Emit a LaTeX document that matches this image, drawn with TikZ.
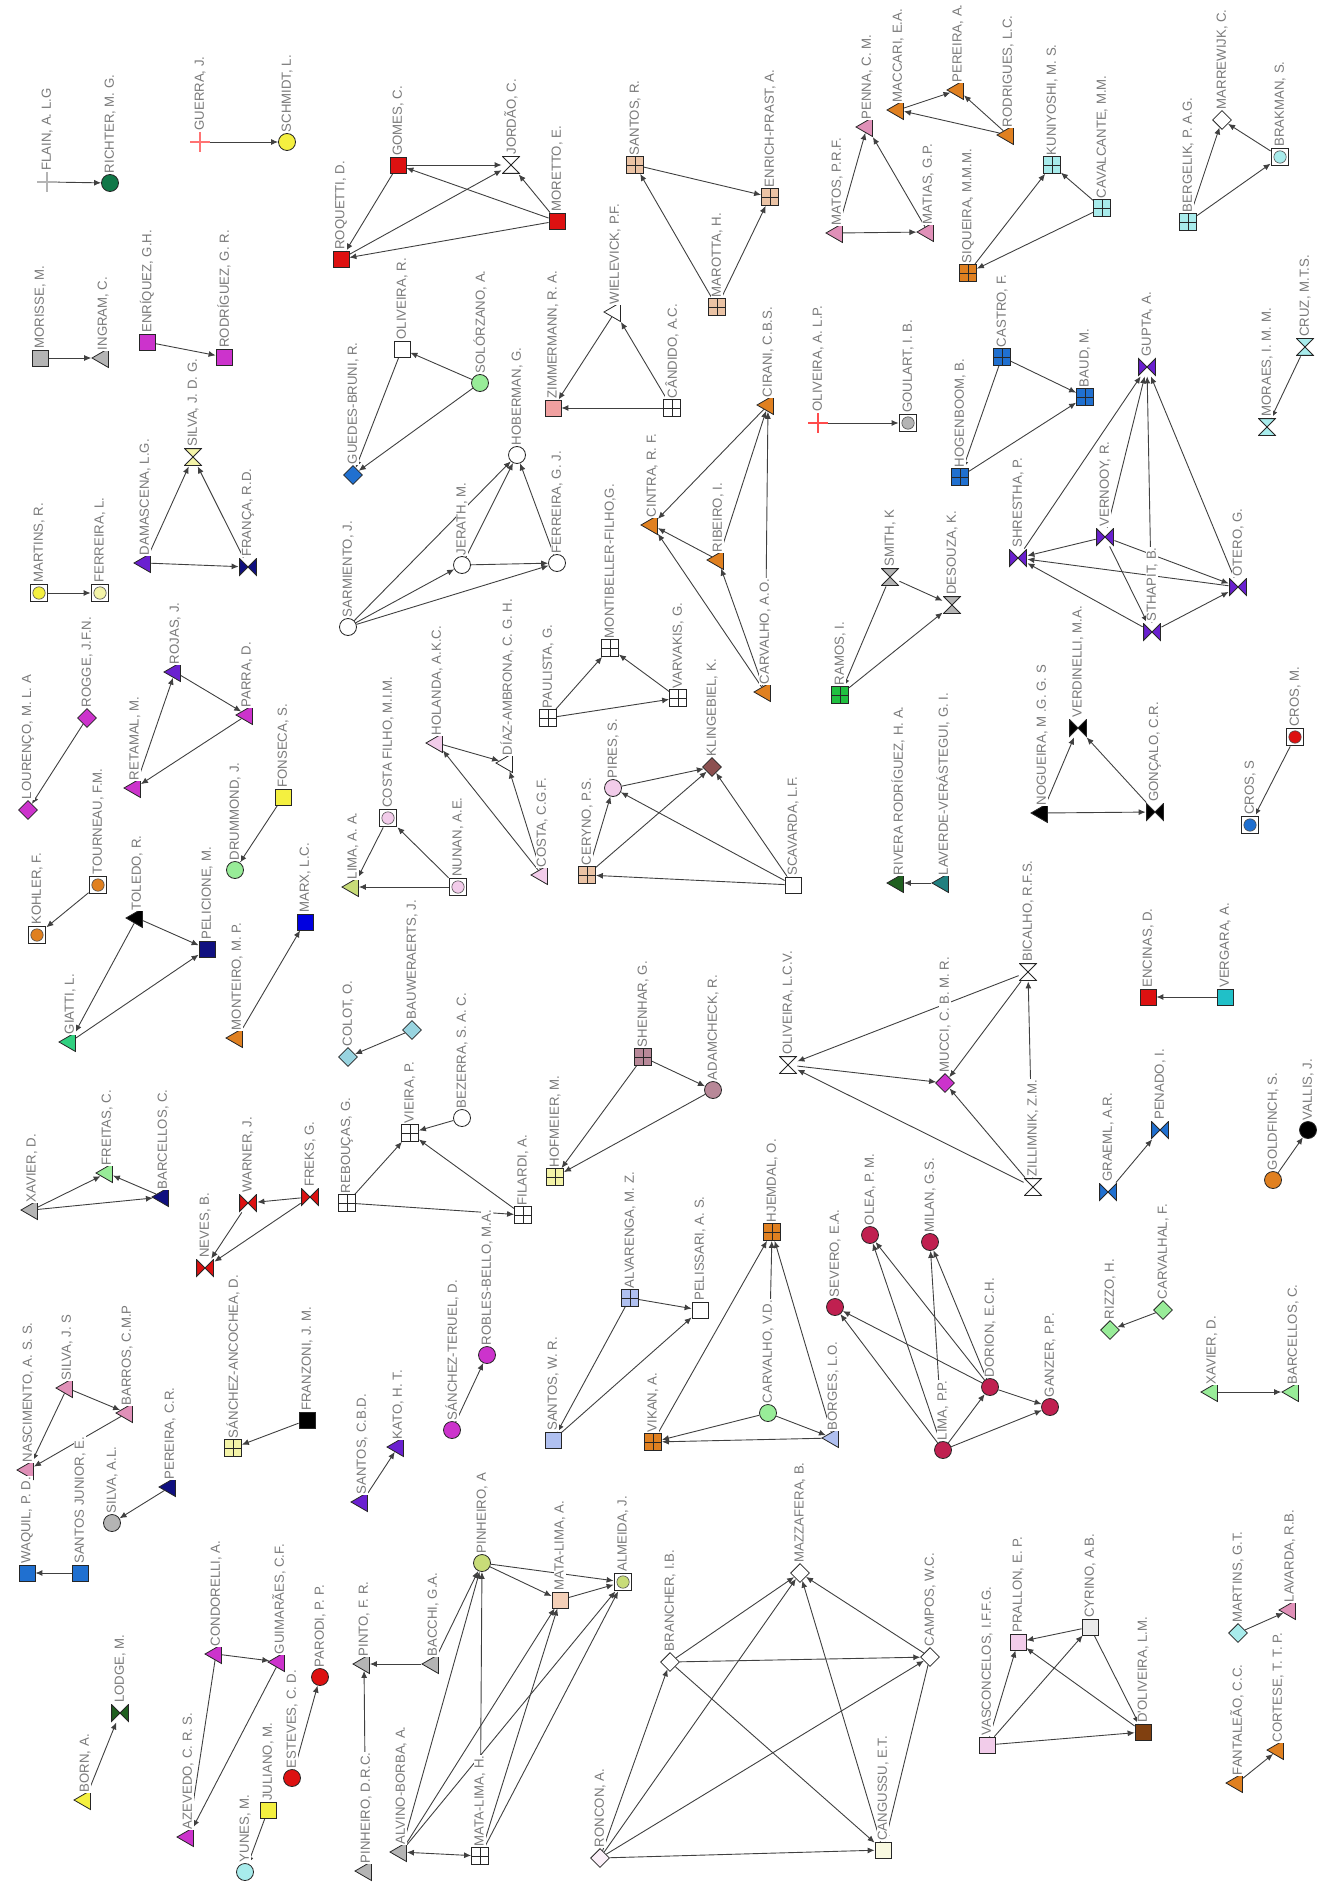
\documentclass[tikz,border=0pt]{standalone}
\usepackage{fontspec}
\usepackage{xcolor}
\usepackage{tikz}
\usetikzlibrary{arrows.meta,shapes.geometric}
\newfontfamily\labfont{Liberation Sans}
\definecolor{cgry}{HTML}{B4B4B4}
\definecolor{cmgn}{HTML}{CC33CC}
\definecolor{crd}{HTML}{DD1111}
\definecolor{cbl}{HTML}{2070D0}
\definecolor{cpu}{HTML}{6A20D0}
\definecolor{cnv}{HTML}{101080}
\definecolor{corg}{HTML}{E08020}
\definecolor{cpk}{HTML}{E090B8}
\definecolor{clpk}{HTML}{F2CCEA}
\definecolor{ctan}{HTML}{EBC3A5}
\definecolor{clcy}{HTML}{A8ECEC}
\definecolor{ccy2}{HTML}{98D4E0}
\definecolor{clgr}{HTML}{98EC98}
\definecolor{cyl}{HTML}{F4F040}
\definecolor{clyl}{HTML}{F4F4A8}
\definecolor{cygr}{HTML}{C8DC78}
\definecolor{cdgr}{HTML}{107848}
\definecolor{cdgr2}{HTML}{206020}
\definecolor{csal}{HTML}{F0A0A0}
\definecolor{cmve}{HTML}{B88898}
\definecolor{cbrn}{HTML}{8C5050}
\definecolor{clav}{HTML}{B0C0F0}
\definecolor{cmrn}{HTML}{C02050}
\definecolor{cdbr}{HTML}{804010}
\definecolor{ctl}{HTML}{20C0C8}
\definecolor{cgrn}{HTML}{20C040}
\definecolor{cmarx}{HTML}{0000E0}
\definecolor{cgia}{HTML}{30D080}
\definecolor{cteal}{HTML}{208080}
\definecolor{cpch}{HTML}{F4D0B8}
\definecolor{cvpk}{HTML}{FBEFF8}
\definecolor{cvyl}{HTML}{F8F8E0}
\pgfdeclarelayer{bg}
\pgfsetlayers{bg,main}
\begin{document}
\begin{tikzpicture}[x=0.5pt,y=-0.5pt,>={Latex[length=3.5pt,width=3pt]},
  every node/.style={inner sep=0pt,draw=black!85,line width=0.4pt},
  lab/.style={rotate=90,anchor=west,draw=none,fill=white,text=black!52,inner sep=0.3pt,
    font=\labfont\fontsize{6.6}{7}\selectfont},
  nm/.style={label={[lab]above:{#1}}},
  sq/.style={rectangle,fill=#1,minimum size=8pt},
  circ/.style={circle,fill=#1,minimum size=8.5pt},
  dia/.style={diamond,fill=#1,minimum size=9.5pt},
  tri/.style={regular polygon,regular polygon sides=3,shape border rotate=90,fill=#1,minimum size=11pt},
  win/.style={rectangle,fill=#1,minimum size=8.5pt,
    path picture={\draw[black!85] (path picture bounding box.north)--(path picture bounding box.south)
      (path picture bounding box.west)--(path picture bounding box.east);}},
  cbox/.style={rectangle,fill=white,minimum size=8.5pt,line width=0.9pt,
    path picture={\filldraw[fill=#1,draw=black!70,line width=0.3pt] (path picture bounding box.center) circle (3.1pt);}},
  bow/.style={rectangle,draw=none,minimum size=9pt,
    path picture={\filldraw[fill=#1,draw=black!85,line width=0.4pt]
      ([shift={(.3pt,.3pt)}]path picture bounding box.south west)--([shift={(-.3pt,-.3pt)}]path picture bounding box.north east)
      --([shift={(-.3pt,.3pt)}]path picture bounding box.south east)--([shift={(.3pt,-.3pt)}]path picture bounding box.north west)--cycle;}},
  hour/.style={rectangle,draw=none,minimum size=9pt,
    path picture={\filldraw[fill=#1,draw=black!85,line width=0.4pt]
      ([shift={(.3pt,.3pt)}]path picture bounding box.south west)--([shift={(-.3pt,.3pt)}]path picture bounding box.south east)
      --([shift={(.3pt,-.3pt)}]path picture bounding box.north west)--([shift={(-.3pt,-.3pt)}]path picture bounding box.north east)--cycle;}},
  plus/.style={rectangle,draw=none,minimum size=10pt,
    path picture={\draw[#1,line width=0.6pt] (path picture bounding box.north)--(path picture bounding box.south)
      (path picture bounding box.west)--(path picture bounding box.east);}},
  ed/.style={->,black!75,line width=0.45pt}]
  \useasboundingbox (0,0) rectangle (1319,1888);
  \node[plus=cgry,nm={FLAIN, A. L.G}] (flain) at (47,182) {};
  \node[circ=cdgr,nm={RICHTER, M. G.}] (richter) at (110,183) {};
  \node[plus=red!55,nm={GUERRA, J.}] (guerra) at (200,142) {};
  \node[circ=cyl,nm={SCHMIDT, L.}] (schmidt) at (287,142) {};
  \node[sq=cgry,nm={MORISSE, M.}] (morisse) at (40,358) {};
  \node[tri=cgry,nm={INGRAM, C.}] (ingram) at (103,358) {};
  \node[sq=cmgn,nm={ENRÍQUEZ, G.H.}] (enriquez) at (147,342) {};
  \node[sq=cmgn,nm={RODRÍGUEZ, G. R.}] (rodriguez) at (224,357) {};
  \node[sq=crd,nm={ROQUETTI, D.}] (roquetti) at (341,259) {};
  \node[sq=crd,nm={GOMES, C.}] (gomes) at (398,165) {};
  \node[hour=white,nm={JORDÃO, C.}] (jordao) at (511,165) {};
  \node[sq=crd,nm={MORETTO, E.}] (moretto) at (557,221) {};
  \node[sq=white,nm={OLIVEIRA, R.}] (oliveirar) at (402,349) {};
  \node[circ=clgr,nm={SOLÓRZANO, A.}] (solorzano) at (480,383) {};
  \node[dia=cbl,nm={GUEDES-BRUNI, R.}] (guedes) at (353,475) {};
  \node[circ=white,nm={SARMIENTO, J.}] (sarmiento) at (348,627) {};
  \node[circ=white,nm={JERATH, M.}] (jerath) at (462,565) {};
  \node[circ=white,nm={HOBERMAN, G.}] (hoberman) at (517,455) {};
  \node[circ=white,nm={FERREIRA, G. J.}] (ferreiragj) at (557,563) {};
  \node[sq=csal,nm={ZIMMERMANN, R. A.}] (zimmermann) at (553,408) {};
  \node[tri=white,nm={WIELEVICK, P.F.}] (wielevick) at (615,312) {};
  \node[win=white,nm={CÂNDIDO, A.C.}] (candido) at (672,408) {};
  \node[win=ctan,nm={SANTOS, R.}] (santosr) at (635,165) {};
  \node[win=ctan,nm={ENRICH-PRAST, A.}] (enrich) at (770,197) {};
  \node[win=ctan,nm={MAROTTA, H.}] (marotta) at (717,307) {};
  \node[tri=corg,nm={CIRANI, C.B.S.}] (cirani) at (768,405) {};
  \node[tri=corg,nm={CINTRA, R. F.}] (cintra) at (652,525) {};
  \node[tri=corg,nm={RIBEIRO, I.}] (ribeiro) at (718,560) {};
  \node[tri=corg,nm={CARVALHO, A.O.}] (carvalhoao) at (765,692) {};
  \node[plus=red!70,nm={OLIVEIRA, A. L.P.}] (oliveiraalp) at (818,423) {};
  \node[cbox=cgry,nm={GOULART, I. B.}] (goulart) at (908,423) {};
  \node[tri=cpk,nm={MATOS, P.R.F.}] (matos) at (837,233) {};
  \node[tri=cpk,nm={PENNA, C. M.}] (penna) at (867,127) {};
  \node[tri=cpk,nm={MATIAS, G.P.}] (matias) at (928,232) {};
  \node[tri=corg,nm={MACCARI, E.A.}] (maccari) at (898,110) {};
  \node[tri=corg,nm={PEREIRA, A.}] (pereiraa) at (958,90) {};
  \node[tri=corg,nm={RODRIGUES, L.C.}] (rodrigues) at (1008,135) {};
  \node[win=corg,nm={SIQUEIRA, M.M.M.}] (siqueira) at (968,273) {};
  \node[win=clcy,nm={KUNIYOSHI, M. S.}] (kuniyoshi) at (1052,165) {};
  \node[win=clcy,nm={CAVALCANTE, M.M.}] (cavalcante) at (1102,208) {};
  \node[win=clcy,nm={BERGELIK, P. A.G.}] (bergelik) at (1188,222) {};
  \node[dia=white,nm={MARREWIJK, C.}] (marrewijk) at (1222,120) {};
  \node[cbox=clcy,nm={BRAKMAN, S.}] (brakman) at (1280,157) {};
  \node[win=cbl,nm={CASTRO, F.}] (castro) at (1002,357) {};
  \node[win=cbl,nm={BAUD, M.}] (baud) at (1085,397) {};
  \node[win=cbl,nm={HOGENBOOM, B.}] (hogenboom) at (960,477) {};
  \node[bow=cpu,nm={GUPTA, A.}] (gupta) at (1147,367) {};
  \node[bow=cpu,nm={SHRESTHA, P.}] (shrestha) at (1018,558) {};
  \node[bow=cpu,nm={VERNOOY, R.}] (vernooy) at (1105,537) {};
  \node[bow=cpu,nm={STHAPIT, B.}] (sthapit) at (1152,632) {};
  \node[bow=cpu,nm={OTERO, G.}] (otero) at (1238,587) {};
  \node[hour=clcy,nm={MORAES, I. M. M.}] (moraes) at (1267,427) {};
  \node[hour=clcy,nm={CRUZ, M.T.S.}] (cruz) at (1305,347) {};
  \node[cbox=cyl,nm={MARTINS, R.}] (martinsr) at (39,593) {};
  \node[cbox=clyl,nm={FERREIRA, L.}] (ferreiral) at (100,593) {};
  \node[tri=cpu,nm={DAMASCENA, L.G.}] (damascena) at (145,563) {};
  \node[bow=cnv,nm={FRANÇA, R.D.}] (franca) at (248,567) {};
  \node[hour=clyl,nm={SILVA, J. D. G.}] (silvajdg) at (193,457) {};
  \node[dia=cmgn,nm={LOURENÇO, M. L. A}] (lourenco) at (28,810) {};
  \node[dia=cmgn,nm={ROGGE, J.F.N.}] (rogge) at (87,718) {};
  \node[cbox=corg,nm={KOHLER, F.}] (kohler) at (37,935) {};
  \node[cbox=corg,nm={TOURNEAU, F.M.}] (tourneau) at (98,885) {};
  \node[tri=cmgn,nm={RETAMAL, M.}] (retamal) at (135,788) {};
  \node[tri=cpu,nm={ROJAS, J.}] (rojas) at (175,672) {};
  \node[tri=cmgn,nm={PARRA, D.}] (parra) at (247,715) {};
  \node[circ=clgr,nm={DRUMMOND, J.}] (drummond) at (235,870) {};
  \node[sq=cyl,nm={FONSECA, S.}] (fonseca) at (283,797) {};
  \node[tri=black,nm={TOLEDO, R.}] (toledo) at (137,918) {};
  \node[sq=cnv,nm={PELICIONE, M.}] (pelicione) at (207,949) {};
  \node[tri=cgia,nm={GIATTI, L.}] (giatti) at (70,1042) {};
  \node[sq=cmarx,nm={MARX, L.C.}] (marx) at (305,922) {};
  \node[tri=corg,nm={MONTEIRO, M. P.}] (monteiro) at (237,1038) {};
  \node[cbox=clpk,nm={COSTA FILHO, M.I.M.}] (costafilho) at (388,818) {};
  \node[tri=cygr,nm={LIMA, A. A.}] (limaaa) at (353,887) {};
  \node[cbox=clpk,nm={NUNAN, A.E.}] (nunan) at (458,887) {};
  \node[tri=clpk,nm={HOLANDA, A.K.C.}] (holanda) at (437,743) {};
  \node[tri=white,nm={DÍAZ-AMBRONA, C. G. H.}] (diaz) at (507,763) {};
  \node[tri=clpk,nm={COSTA, C.G.F.}] (costacgf) at (542,875) {};
  \node[win=white,nm={PAULISTA, G.}] (paulista) at (548,718) {};
  \node[win=white,nm={MONTIBELLER-FILHO,G.}] (montibeller) at (610,648) {};
  \node[win=white,nm={VARVAKIS, G.}] (varvakis) at (678,698) {};
  \node[win=ctan,nm={CERYNO, P.S.}] (ceryno) at (587,875) {};
  \node[circ=clpk,nm={PIRES, S.}] (pires) at (613,788) {};
  \node[dia=cbrn,nm={KLINGEBIEL, K.}] (klingebiel) at (712,767) {};
  \node[sq=white,nm={SCAVARDA, L.F.}] (scavarda) at (793,885) {};
  \node[hour=cgry,nm={SMITH, K}] (smith) at (890,577) {};
  \node[hour=cgry,nm={DESOUZA, K.}] (desouza) at (952,605) {};
  \node[win=cgrn,nm={RAMOS, I.}] (ramos) at (840,695) {};
  \node[tri=cdgr2,nm={RIVERA RODRÍGUEZ, H. A.}] (rivera) at (898,883) {};
  \node[tri=cteal,nm={LAVERDE-VERÁSTEGUI, G. I.}] (laverde) at (943,883) {};
  \node[tri=black,nm={NOGUEIRA, M .G. G. S}] (nogueira) at (1042,813) {};
  \node[bow=black,nm={VERDINELLI, M.A.}] (verdinelli) at (1078,728) {};
  \node[bow=black,nm={GONÇALO, C.R.}] (goncalo) at (1155,812) {};
  \node[cbox=cbl,nm={CROS, S}] (cross) at (1250,825) {};
  \node[cbox=crd,nm={CROS, M.}] (crosm) at (1295,737) {};
  \node[tri=cgry,nm={XAVIER, D.}] (xavier) at (32,1210) {};
  \node[tri=clgr,nm={FREITAS, C.}] (freitas) at (107,1173) {};
  \node[tri=cnv,nm={BARCELLOS, C.}] (barcellos) at (163,1197) {};
  \node[bow=crd,nm={NEVES, B.}] (neves) at (205,1268) {};
  \node[bow=crd,nm={WARNER, J.}] (warner) at (248,1203) {};
  \node[bow=crd,nm={FREKS, G.}] (freks) at (310,1197) {};
  \node[dia=ccy2,nm={COLOT, O.}] (colot) at (348,1057) {};
  \node[dia=ccy2,nm={BAUWERAERTS, J.}] (bauw) at (412,1030) {};
  \node[win=white,nm={REBOUÇAS, G.}] (reboucas) at (347,1203) {};
  \node[win=white,nm={VIEIRA, P.}] (vieirap) at (410,1133) {};
  \node[circ=white,nm={BEZERRA, S. A. C.}] (bezerra) at (462,1118) {};
  \node[win=white,nm={FILARDI, A.}] (filardi) at (523,1215) {};
  \node[win=clyl,nm={HOFMEIER, M.}] (hofmeier) at (555,1177) {};
  \node[win=cmve,nm={SHENHAR, G.}] (shenhar) at (643,1057) {};
  \node[circ=cmve,nm={ADAMCHECK, R.}] (adamcheck) at (713,1090) {};
  \node[hour=white,nm={OLIVEIRA, L.C.V.}] (oliveiralcv) at (788,1065) {};
  \node[dia=cmgn,nm={MUCCI, C. B. M. R.}] (mucci) at (945,1083) {};
  \node[hour=white,nm={BICALHO, R.F.S.}] (bicalho) at (1028,972) {};
  \node[hour=white,nm={ZILLIMNIK, Z.M.}] (zillimnik) at (1033,1187) {};
  \node[sq=crd,nm={ENCINAS, D.}] (encinas) at (1148,997) {};
  \node[sq=ctl,nm={VERGARA, A.}] (vergara) at (1225,997) {};
  \node[bow=cbl,nm={GRAEML, A.R.}] (graeml) at (1108,1192) {};
  \node[bow=cbl,nm={PENADO, I.}] (penado) at (1160,1130) {};
  \node[circ=corg,nm={GOLDFINCH, S.}] (goldfinch) at (1273,1180) {};
  \node[circ=black,nm={VALLIS, J.}] (vallis) at (1308,1130) {};
  \node[tri=cpk,nm={NASCIMENTO, A. S. S.}] (nascimento) at (28,1470) {};
  \node[tri=cpk,nm={SILVA, J. S}] (silvajs) at (67,1388) {};
  \node[tri=cpk,nm={BARROS, C.M.P}] (barros) at (127,1413) {};
  \node[win=clyl,nm={SÁNCHEZ-ANCOCHEA, D.}] (sanchezanc) at (233,1448) {};
  \node[sq=black,nm={FRANZONI, J. M.}] (franzoni) at (307,1420) {};
  \node[tri=cnv,nm={PEREIRA, C.R.}] (pereiracr) at (170,1487) {};
  \node[circ=cgry,nm={SILVA, A.L.}] (silvaal) at (112,1523) {};
  \node[sq=cbl,nm={WAQUIL, P. D.}] (waquil) at (27,1573) {};
  \node[sq=cbl,nm={SANTOS JUNIOR, E.}] (santosjr) at (80,1573) {};
  \node[tri=cpu,nm={SANTOS, C.B.D.}] (santoscbd) at (362,1502) {};
  \node[tri=cpu,nm={KATO, H. T.}] (kato) at (398,1447) {};
  \node[circ=cmgn,nm={SÁNCHEZ-TERUEL, D.}] (sancheztr) at (452,1430) {};
  \node[circ=cmgn,nm={ROBLES-BELLO, M.A.}] (robles) at (487,1355) {};
  \node[sq=clav,nm={SANTOS, W. R.}] (santoswr) at (553,1440) {};
  \node[win=clav,nm={ALVARENGA, M. Z.}] (alvarenga) at (630,1298) {};
  \node[sq=white,nm={PELISSARI, A. S.}] (pelissari) at (700,1310) {};
  \node[win=corg,nm={HJEMDAL, O.}] (hjemdal) at (772,1232) {};
  \node[win=corg,nm={VIKAN, A.}] (vikan) at (653,1442) {};
  \node[circ=clgr,nm={CARVALHO, V.D.}] (carvalhovd) at (768,1413) {};
  \node[tri=clav,nm={BORGES, L.O.}] (borges) at (833,1438) {};
  \node[circ=cmrn,nm={SEVERO, E.A.}] (severo) at (835,1307) {};
  \node[circ=cmrn,nm={OLEA, P. M.}] (olea) at (870,1235) {};
  \node[circ=cmrn,nm={MILAN, G.S.}] (milan) at (930,1242) {};
  \node[circ=cmrn,nm={DORION, E.C.H.}] (dorion) at (990,1387) {};
  \node[circ=cmrn,nm={GANZER, P.P.}] (ganzer) at (1050,1407) {};
  \node[circ=cmrn,nm={LIMA, P.P.}] (limapp) at (943,1450) {};
  \node[dia=clgr,nm={RIZZO, H.}] (rizzo) at (1110,1330) {};
  \node[dia=clgr,nm={CARVALHAL, F.}] (carvalhal) at (1163,1310) {};
  \node[tri=clgr,nm={XAVIER, D.}] (xavierb) at (1212,1392) {};
  \node[tri=clgr,nm={BARCELLOS, C.}] (barcellosb) at (1293,1392) {};
  \node[tri=cyl,nm={BORN, A.}] (born) at (85,1800) {};
  \node[bow=cdgr2,nm={LODGE, M.}] (lodge) at (120,1713) {};
  \node[tri=cmgn,nm={CONDORELLI, A.}] (condorelli) at (216,1654) {};
  \node[tri=cmgn,nm={GUIMARÃES, C.F.}] (guimaraes) at (279,1662) {};
  \node[tri=cmgn,nm={AZEVEDO, C. R. S.}] (azevedo) at (188,1837) {};
  \node[circ=crd,nm={PARODI, P. P.}] (parodi) at (320,1677) {};
  \node[circ=crd,nm={ESTEVES, C. D.}] (esteves) at (292,1778) {};
  \node[sq=cyl,nm={JULIANO, M.}] (juliano) at (268,1810) {};
  \node[circ=clcy,nm={YUNES, M.}] (yunes) at (245,1872) {};
  \node[tri=cgry,nm={PINTO, F. R.}] (pinto) at (364,1664) {};
  \node[tri=cgry,nm={PINHEIRO, D.R.C.}] (pinheirodrc) at (366,1871) {};
  \node[tri=cgry,nm={BACCHI, G.A.}] (bacchi) at (433,1664) {};
  \node[tri=cgry,nm={ALVINO-BORBA, A.}] (alvino) at (401,1852) {};
  \node[circ=cygr,nm={PINHEIRO, A}] (pinheiroa) at (482,1563) {};
  \node[sq=cpch,nm={MATA-LIMA, A.}] (matalimaa) at (560,1600) {};
  \node[cbox=cygr,nm={ALMEIDA, J.}] (almeida) at (623,1582) {};
  \node[win=white,nm={MATA-LIMA, H.}] (matalimah) at (480,1856) {};
  \node[dia=cvpk,nm={RONCON, A.}] (roncon) at (600,1858) {};
  \node[dia=white,nm={BRANCHER, I.B.}] (brancher) at (670,1662) {};
  \node[dia=white,nm={MAZZAFERA, B.}] (mazzafera) at (800,1573) {};
  \node[dia=white,nm={CAMPOS, W.C.}] (campos) at (930,1657) {};
  \node[sq=cvyl,nm={CANGUSSU, E.T.}] (cangussu) at (883,1850) {};
  \node[sq=clpk,nm={VASCONCELOS, I.F.F.G.}] (vasconcelos) at (987,1745) {};
  \node[sq=clpk,nm={PRALLON, E. P.}] (prallon) at (1018,1642) {};
  \node[sq=black!8,nm={CYRINO, A.B.}] (cyrino) at (1090,1627) {};
  \node[sq=cdbr,nm={D'OLIVEIRA, L.M.}] (doliveira) at (1143,1732) {};
  \node[dia=clcy,nm={MARTINS, G.T.}] (martinsgt) at (1238,1633) {};
  \node[tri=cpk,nm={LAVARDA, R.B.}] (lavarda) at (1290,1610) {};
  \node[tri=corg,nm={FANTALEÃO, C.C.}] (fantaleao) at (1237,1783) {};
  \node[tri=corg,nm={CORTESE, T. T. P.}] (cortese) at (1278,1750) {};
  \begin{pgfonlayer}{bg}
  \draw[ed] (flain)--(richter); \draw[ed] (guerra)--(schmidt); \draw[ed] (morisse)--(ingram);
  \draw[ed] (enriquez)--(rodriguez);
  \draw[ed] (gomes)--(jordao); \draw[ed] (roquetti)--(jordao); \draw[ed] (moretto)--(jordao);
  \draw[ed] (moretto)--(gomes); \draw[ed] (gomes)--(roquetti); \draw[ed] (moretto)--(roquetti);
  \draw[ed] (solorzano)--(oliveirar); \draw[ed] (oliveirar)--(guedes); \draw[ed] (solorzano)--(guedes);
  \draw[ed] (sarmiento)--(jerath); \draw[ed] (sarmiento)--(hoberman); \draw[ed] (sarmiento)--(ferreiragj);
  \draw[ed] (jerath)--(hoberman); \draw[ed] (jerath)--(ferreiragj); \draw[ed] (ferreiragj)--(hoberman);
  \draw[ed] (wielevick)--(zimmermann); \draw[ed] (candido)--(wielevick); \draw[ed] (candido)--(zimmermann);
  \draw[ed] (marotta)--(santosr); \draw[ed] (santosr)--(enrich); \draw[ed] (marotta)--(enrich);
  \draw[ed] (cirani)--(cintra); \draw[ed] (ribeiro)--(cirani); \draw[ed] (carvalhoao)--(cirani);
  \draw[ed] (ribeiro)--(cintra); \draw[ed] (carvalhoao)--(cintra); \draw[ed] (carvalhoao)--(ribeiro);
  \draw[ed] (oliveiraalp)--(goulart);
  \draw[ed] (matos)--(penna); \draw[ed] (matias)--(penna); \draw[ed] (matos)--(matias);
  \draw[ed] (maccari)--(pereiraa); \draw[ed] (rodrigues)--(pereiraa); \draw[ed] (rodrigues)--(maccari);
  \draw[ed] (siqueira)--(kuniyoshi); \draw[ed] (cavalcante)--(kuniyoshi); \draw[ed] (cavalcante)--(siqueira);
  \draw[ed] (bergelik)--(marrewijk); \draw[ed] (brakman)--(marrewijk); \draw[ed] (bergelik)--(brakman);
  \draw[ed] (castro)--(baud); \draw[ed] (castro)--(hogenboom); \draw[ed] (hogenboom)--(baud);
  \draw[ed] (shrestha)--(gupta); \draw[ed] (vernooy)--(gupta); \draw[ed] (sthapit)--(gupta); \draw[ed] (otero)--(gupta);
  \draw[ed] (vernooy)--(shrestha); \draw[ed] (sthapit)--(shrestha); \draw[ed] (otero)--(shrestha);
  \draw[ed] (vernooy)--(otero); \draw[ed] (sthapit)--(otero); \draw[ed] (vernooy)--(sthapit);
  \draw[ed] (cruz)--(moraes); \draw[ed] (martinsr)--(ferreiral);
  \draw[ed] (damascena)--(silvajdg); \draw[ed] (franca)--(silvajdg); \draw[ed] (damascena)--(franca);
  \draw[ed] (rogge)--(lourenco); \draw[ed] (tourneau)--(kohler);
  \draw[ed] (retamal)--(rojas); \draw[ed] (rojas)--(parra); \draw[ed] (parra)--(retamal);
  \draw[ed] (fonseca)--(drummond);
  \draw[ed] (toledo)--(giatti); \draw[ed] (toledo)--(pelicione); \draw[ed] (giatti)--(pelicione);
  \draw[ed] (monteiro)--(marx);
  \draw[ed] (costafilho)--(limaaa); \draw[ed] (nunan)--(limaaa); \draw[ed] (nunan)--(costafilho);
  \draw[ed] (holanda)--(diaz); \draw[ed] (costacgf)--(diaz); \draw[ed] (costacgf)--(holanda);
  \draw[ed] (paulista)--(montibeller); \draw[ed] (varvakis)--(montibeller); \draw[ed] (paulista)--(varvakis);
  \draw[ed] (ceryno)--(pires); \draw[ed] (pires)--(klingebiel); \draw[ed] (ceryno)--(klingebiel);
  \draw[ed] (scavarda)--(klingebiel); \draw[ed] (scavarda)--(pires); \draw[ed] (scavarda)--(ceryno);
  \draw[ed] (smith)--(desouza); \draw[ed] (smith)--(ramos); \draw[ed] (ramos)--(desouza);
  \draw[ed] (laverde)--(rivera);
  \draw[ed] (nogueira)--(verdinelli); \draw[ed] (goncalo)--(verdinelli); \draw[ed] (nogueira)--(goncalo);
  \draw[ed] (crosm)--(cross);
  \draw[ed] (xavier)--(freitas); \draw[ed] (barcellos)--(freitas); \draw[ed] (xavier)--(barcellos);
  \draw[ed] (freks)--(warner); \draw[ed] (warner)--(neves); \draw[ed] (freks)--(neves);
  \draw[ed] (bauw)--(colot);
  \draw[ed] (reboucas)--(vieirap); \draw[ed] (bezerra)--(vieirap); \draw[ed] (filardi)--(vieirap); \draw[ed] (reboucas)--(filardi);
  \draw[ed] (shenhar)--(adamcheck); \draw[ed] (shenhar)--(hofmeier); \draw[ed] (adamcheck)--(hofmeier);
  \draw[ed] (oliveiralcv)--(mucci); \draw[ed] (bicalho)--(oliveiralcv); \draw[ed] (zillimnik)--(oliveiralcv);
  \draw[ed] (zillimnik)--(mucci); \draw[ed] (bicalho)--(mucci); \draw[ed] (zillimnik)--(bicalho);
  \draw[ed] (vergara)--(encinas); \draw[ed] (graeml)--(penado); \draw[ed] (goldfinch)--(vallis);
  \draw[ed] (silvajs)--(nascimento); \draw[ed] (silvajs)--(barros); \draw[ed] (barros)--(nascimento);
  \draw[ed] (franzoni)--(sanchezanc); \draw[ed] (pereiracr)--(silvaal); \draw[ed] (santosjr)--(waquil);
  \draw[ed] (santoscbd)--(kato); \draw[ed] (sancheztr)--(robles);
  \draw[ed] (alvarenga)--(pelissari); \draw[ed] (alvarenga)--(santoswr); \draw[ed] (santoswr)--(pelissari);
  \draw[ed] (vikan)--(hjemdal); \draw[ed] (carvalhovd)--(hjemdal); \draw[ed] (borges)--(hjemdal);
  \draw[ed] (carvalhovd)--(vikan); \draw[ed] (borges)--(vikan); \draw[ed] (carvalhovd)--(borges);
  \draw[ed] (limapp)--(severo); \draw[ed] (limapp)--(olea); \draw[ed] (limapp)--(milan); \draw[ed] (limapp)--(dorion); \draw[ed] (limapp)--(ganzer);
  \draw[ed] (dorion)--(severo); \draw[ed] (dorion)--(olea); \draw[ed] (dorion)--(milan); \draw[ed] (dorion)--(ganzer);
  \draw[ed] (carvalhal)--(rizzo); \draw[ed] (xavierb)--(barcellosb); \draw[ed] (born)--(lodge);
  \draw[ed] (condorelli)--(guimaraes); \draw[ed] (condorelli)--(azevedo); \draw[ed] (guimaraes)--(azevedo);
  \draw[ed] (esteves)--(parodi); \draw[ed] (juliano)--(yunes);
  \draw[ed] (pinheirodrc)--(pinto); \draw[ed] (bacchi)--(pinto); \draw[ed] (bacchi)--(pinheiroa);
  \draw[ed] (alvino)--(pinheiroa); \draw[ed] (alvino)--(matalimaa); \draw[ed] (alvino)--(almeida);
  \draw[ed,<->] (alvino)--(matalimah);
  \draw[ed] (matalimah)--(pinheiroa); \draw[ed] (matalimah)--(matalimaa); \draw[ed] (matalimah)--(almeida);
  \draw[ed] (pinheiroa)--(matalimaa); \draw[ed] (pinheiroa)--(almeida); \draw[ed] (matalimaa)--(almeida);
  \draw[ed] (roncon)--(brancher); \draw[ed] (roncon)--(mazzafera); \draw[ed] (roncon)--(campos); \draw[ed] (roncon)--(cangussu);
  \draw[ed] (brancher)--(mazzafera); \draw[ed] (brancher)--(campos); \draw[ed] (brancher)--(cangussu);
  \draw[ed] (cangussu)--(mazzafera); \draw[ed] (campos)--(mazzafera); \draw[ed] (campos)--(cangussu);
  \draw[ed] (cyrino)--(prallon); \draw[ed] (vasconcelos)--(prallon); \draw[ed] (doliveira)--(prallon);
  \draw[ed] (vasconcelos)--(cyrino); \draw[ed] (vasconcelos)--(doliveira); \draw[ed] (cyrino)--(doliveira);
  \draw[ed] (martinsgt)--(lavarda); \draw[ed] (fantaleao)--(cortese);
  \end{pgfonlayer}
\end{tikzpicture}
\end{document}
